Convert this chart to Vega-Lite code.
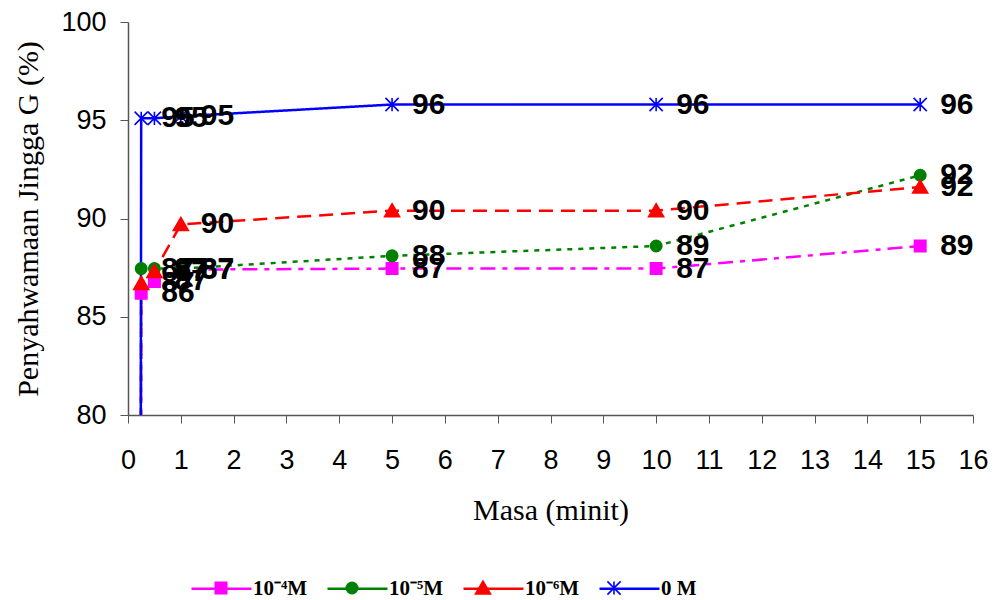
{
  "$schema": "https://vega.github.io/schema/vega-lite/v6.json",
  "width": 845,
  "height": 393,
  "autosize": {"type": "none"},
  "padding": {"left": 128, "top": 22, "right": 25, "bottom": 185},
  "background": "white",
  "config": {"view": {"stroke": null}, "axis": {"grid": false}},
  "data": {
    "values": [
      {"s": "10⁻⁴M", "t": 0.2, "v": 0},
      {"s": "10⁻⁴M", "t": 0.25, "v": 86.2},
      {"s": "10⁻⁴M", "t": 0.5, "v": 86.8},
      {"s": "10⁻⁴M", "t": 1, "v": 87.4},
      {"s": "10⁻⁴M", "t": 5, "v": 87.45},
      {"s": "10⁻⁴M", "t": 10, "v": 87.45},
      {"s": "10⁻⁴M", "t": 15, "v": 88.6},
      {"s": "10⁻⁵M", "t": 0.2, "v": 0},
      {"s": "10⁻⁵M", "t": 0.25, "v": 87.45},
      {"s": "10⁻⁵M", "t": 0.5, "v": 87.45},
      {"s": "10⁻⁵M", "t": 1, "v": 87.45},
      {"s": "10⁻⁵M", "t": 5, "v": 88.1},
      {"s": "10⁻⁵M", "t": 10, "v": 88.6},
      {"s": "10⁻⁵M", "t": 15, "v": 92.2},
      {"s": "10⁻⁶M", "t": 0.2, "v": 0},
      {"s": "10⁻⁶M", "t": 0.25, "v": 86.7},
      {"s": "10⁻⁶M", "t": 0.5, "v": 87.3},
      {"s": "10⁻⁶M", "t": 1, "v": 89.7},
      {"s": "10⁻⁶M", "t": 5, "v": 90.4},
      {"s": "10⁻⁶M", "t": 10, "v": 90.4},
      {"s": "10⁻⁶M", "t": 15, "v": 91.6},
      {"s": "0 M", "t": 0.2, "v": 0},
      {"s": "0 M", "t": 0.25, "v": 95.1},
      {"s": "0 M", "t": 0.5, "v": 95.1},
      {"s": "0 M", "t": 1, "v": 95.2},
      {"s": "0 M", "t": 5, "v": 95.8},
      {"s": "0 M", "t": 10, "v": 95.8},
      {"s": "0 M", "t": 15, "v": 95.8}
    ]
  },
  "layer": [
    {
      "mark": {"type": "line", "strokeWidth": 2.5, "clip": true},
      "encoding": {
        "x": {
          "field": "t", "type": "quantitative",
          "scale": {"domain": [0, 16], "nice": false, "zero": true},
          "axis": {
            "values": [0,1,2,3,4,5,6,7,8,9,10,11,12,13,14,15,16],
            "title": "Masa (minit)",
            "titleFont": "Liberation Serif", "titleFontSize": 30, "titleFontWeight": "normal", "titleColor": "black",
            "titlePadding": 22,
            "labelFont": "Liberation Sans", "labelFontSize": 27, "labelColor": "black",
            "labelPadding": 24, "labelFlush": false,
            "tickSize": 8, "tickColor": "#555", "domainColor": "#555", "domainWidth": 1.5
          }
        },
        "y": {
          "field": "v", "type": "quantitative",
          "scale": {"domain": [80, 100], "nice": false, "zero": false},
          "axis": {
            "values": [80, 85, 90, 95, 100],
            "title": "Penyahwamaan Jingga G (%)",
            "titleFont": "Liberation Serif", "titleFontSize": 30, "titleFontWeight": "normal", "titleColor": "black",
            "titlePadding": 17,
            "labelFont": "Liberation Sans", "labelFontSize": 27, "labelColor": "black",
            "labelPadding": 14, "labelFlush": false,
            "tickSize": 8, "tickColor": "#555", "domainColor": "#555", "domainWidth": 1.5
          }
        },
        "color": {
          "field": "s", "type": "nominal",
          "sort": ["10⁻⁴M", "10⁻⁵M", "10⁻⁶M", "0 M"],
          "scale": {"range": ["#FF00FF", "#008000", "#FF0000", "#0000FF"]},
          "legend": {
            "orient": "none", "legendX": 62, "legendY": 535, "direction": "horizontal", "title": null,
            "labelFont": "Liberation Serif", "labelFontWeight": "bold", "labelFontSize": 21, "labelColor": "black",
            "labelOffset": 0, "columnPadding": 14, "labelLimit": 300, "symbolSize": 3600, "symbolStrokeWidth": 2.5
          }
        },
        "strokeDash": {
          "field": "s", "type": "nominal",
          "sort": ["10⁻⁴M", "10⁻⁵M", "10⁻⁶M", "0 M"],
          "scale": {"range": [[15, 7, 5, 7], [5, 6], [14, 8], [1, 0]]},
          "legend": null
        }
      }
    },
    {
      "transform": [{"filter": "datum.v > 50"}],
      "mark": {"type": "point", "filled": true, "opacity": 1, "size": 3600, "strokeWidth": 1.6},
      "encoding": {
        "x": {"field": "t", "type": "quantitative"},
        "y": {"field": "v", "type": "quantitative"},
        "fill": {
          "field": "s", "type": "nominal",
          "scale": {"domain": ["10⁻⁴M", "10⁻⁵M", "10⁻⁶M", "0 M"], "range": ["#FF00FF", "#008000", "#FF0000", "#0000FF"]},
          "legend": {
            "orient": "none", "legendX": 62, "legendY": 535, "direction": "horizontal", "title": null,
            "labelFont": "Liberation Serif", "labelFontWeight": "bold", "labelFontSize": 21, "labelColor": "transparent",
            "labelOffset": 0, "columnPadding": 14, "labelLimit": 300, "symbolSize": 3600, "symbolStrokeWidth": 1.6, "symbolOpacity": 1
          }
        },
        "stroke": {
          "field": "s", "type": "nominal",
          "scale": {"domain": ["10⁻⁴M", "10⁻⁵M", "10⁻⁶M", "0 M"], "range": ["#FF00FF", "#008000", "#FF0000", "#0000FF"]},
          "legend": {
            "orient": "none", "legendX": 62, "legendY": 535, "direction": "horizontal", "title": null,
            "labelFont": "Liberation Serif", "labelFontWeight": "bold", "labelFontSize": 21, "labelColor": "transparent",
            "labelOffset": 0, "columnPadding": 14, "labelLimit": 300, "symbolSize": 3600, "symbolStrokeWidth": 1.6, "symbolOpacity": 1
          }
        },
        "shape": {
          "field": "s", "type": "nominal",
          "scale": {
            "domain": ["10⁻⁴M", "10⁻⁵M", "10⁻⁶M", "0 M"],
            "range": [
              "M-0.19,-0.19H0.19V0.19H-0.19Z",
              "M-0.19,0A0.19,0.19,0,1,1,0.19,0A0.19,0.19,0,1,1,-0.19,0Z",
              "M0,-0.23L0.25,0.2L-0.25,0.2Z",
              "M0,-0.22V0.22M-0.22,-0.22L0.22,0.22M-0.22,0.22L0.22,-0.22"
            ]
          },
          "legend": {
            "orient": "none", "legendX": 62, "legendY": 535, "direction": "horizontal", "title": null,
            "labelFont": "Liberation Serif", "labelFontWeight": "bold", "labelFontSize": 21, "labelColor": "transparent",
            "labelOffset": 0, "columnPadding": 14, "labelLimit": 300, "symbolSize": 3600, "symbolStrokeWidth": 1.6, "symbolOpacity": 1
          }
        }
      }
    },
    {
      "transform": [{"filter": "datum.v > 50"}],
      "mark": {"type": "text", "align": "left", "baseline": "middle", "dx": 20, "font": "Liberation Sans", "fontWeight": "bold", "fontSize": 30, "color": "black"},
      "encoding": {
        "x": {"field": "t", "type": "quantitative"},
        "y": {"field": "v", "type": "quantitative"},
        "text": {"field": "v", "type": "quantitative", "format": ".0f"}
      }
    }
  ]
}
